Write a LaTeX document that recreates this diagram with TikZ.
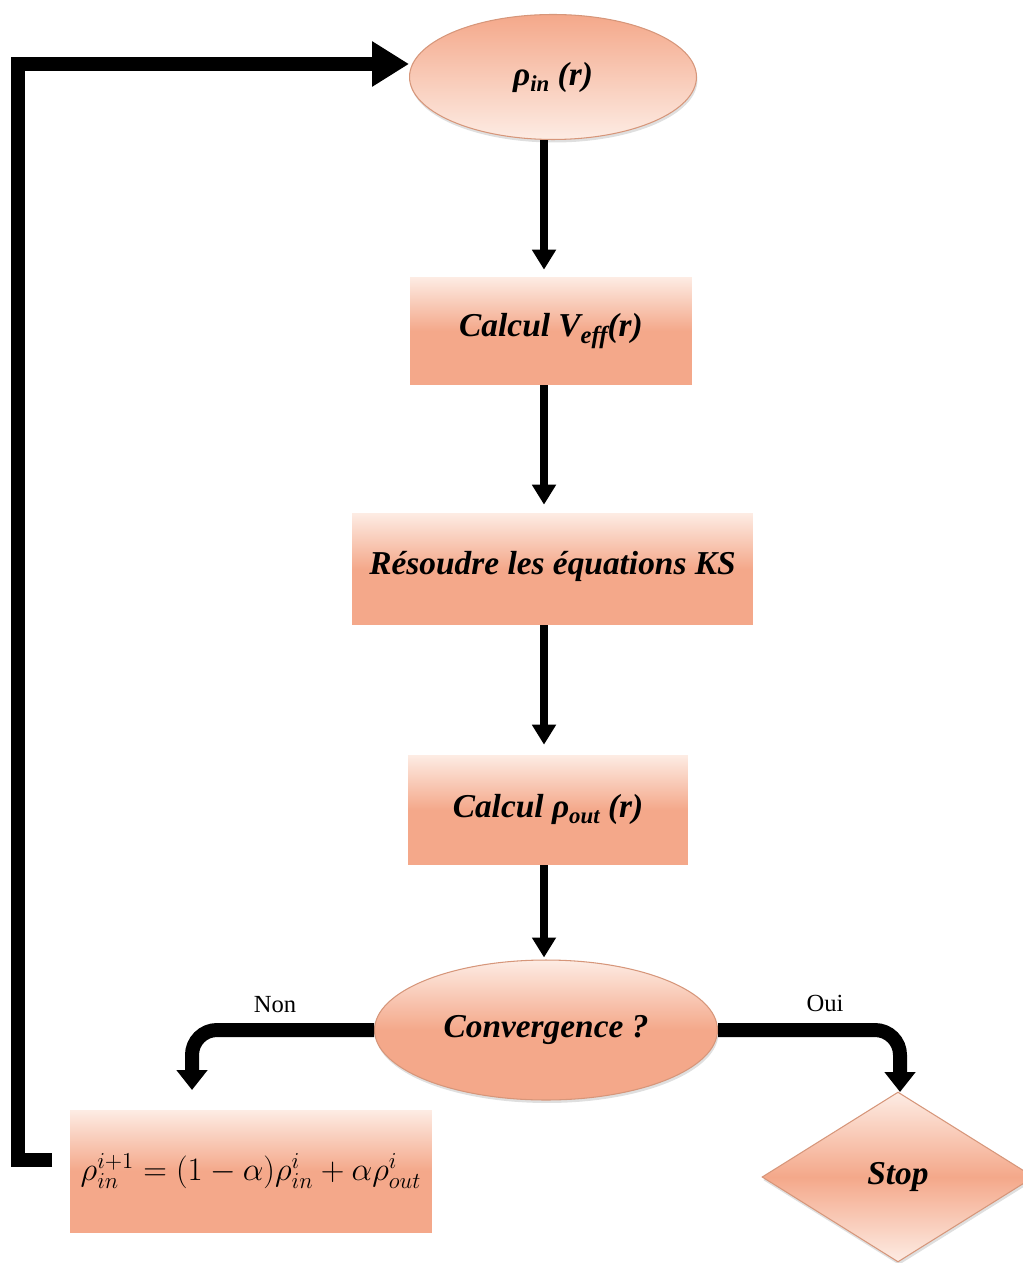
\documentclass[tikz,border=0pt]{standalone}
\usepackage{fontspec}
\setmainfont{Liberation Serif}
\usetikzlibrary{arrows.meta,shapes.geometric,shadows}
\definecolor{salmon}{RGB}{244,168,138}
\definecolor{lightsal}{RGB}{253,236,228}
\definecolor{rimcol}{RGB}{214,150,122}
\begin{document}
\begin{tikzpicture}[x=0.02cm,y=-0.02cm,
  lbl/.style={font=\bfseries\itshape\fontsize{19}{23}\selectfont},
  boxnode/.style={rectangle,inner sep=0pt,draw=none,
     top color=lightsal,bottom color=salmon,middle color=salmon,lbl},
  ellnode/.style={ellipse,inner sep=0pt,draw=rimcol,line width=0.6pt,
     top color=salmon,bottom color=lightsal,lbl,
     drop shadow={opacity=0.25,shadow xshift=0.02cm,shadow yshift=-0.06cm}},
  diamnode/.style={diamond,inner sep=0pt,draw=rimcol,line width=0.6pt,
     top color=lightsal,bottom color=lightsal,middle color=salmon,lbl,
     drop shadow={opacity=0.25,shadow xshift=0.02cm,shadow yshift=-0.06cm}},
  varrow/.style={line width=0.16cm,-{Triangle[length=0.4cm,width=0.46cm]}},
  barrow/.style={line width=0.28cm,rounded corners=0.5cm,-{Triangle[length=0.4cm,width=0.6cm]}},
  fbarrow/.style={line width=0.28cm,line join=miter,-{Triangle[length=0.74cm,width=0.86cm]}},
  small/.style={font=\fontsize{14}{16}\selectfont}
]
\useasboundingbox (0,0) rectangle (1023,1263);

\node[ellnode,minimum width=5.74cm,minimum height=2.5cm] (top) at (553,77)
  {\raisebox{0.05cm}{ρ\raisebox{-0.12cm}{\fontsize{13}{13}\selectfont in} (r)}};
\node[boxnode,minimum width=5.64cm,minimum height=2.16cm] (b1) at (551,331)
  {\raisebox{0.22cm}{Calcul V\raisebox{-0.14cm}{\fontsize{14}{14}\selectfont eff}(r)}};
\node[boxnode,minimum width=8.02cm,minimum height=2.24cm] (b2) at (552.5,569)
  {\raisebox{0.26cm}{Résoudre les équations KS}};
\node[boxnode,minimum width=5.6cm,minimum height=2.2cm] (b3) at (548,810)
  {\raisebox{0.18cm}{Calcul ρ\raisebox{-0.12cm}{\fontsize{13}{13}\selectfont out} (r)}};
\node[ellnode,minimum width=6.86cm,minimum height=2.8cm,top color=lightsal,bottom color=salmon,middle color=salmon] (conv) at (546,1030)
  {\raisebox{0.08cm}{Convergence ?}};
\node[boxnode,minimum width=7.24cm,minimum height=2.44cm,font=\fontsize{17}{20}\selectfont] (form) at (251,1171)
  {\raisebox{-0.06cm}{\scalebox{1.08}{$\rho_{in}^{i+1} = \bigl(1-\alpha\bigr)\rho_{in}^{i} + \alpha\rho_{out}^{i}$}}};
\node[diamnode,minimum width=5.44cm,minimum height=3.4cm] (stop) at (898,1177) {Stop};

\coordinate (ax) at (544,0);
\draw[varrow] (top.south -| ax) -- ([yshift=0.14cm]b1.north -| ax);
\draw[varrow] (b1.south -| ax) -- ([yshift=0.16cm]b2.north -| ax);
\draw[varrow] (b2.south -| ax) -- ([yshift=0.2cm]b3.north -| ax);
\draw[varrow] (b3.south -| ax) -- ([yshift=0.04cm]conv.north -| ax);

\coordinate (nonend) at (192,1090);
\draw[barrow] (conv.west) -| (nonend);
\coordinate (ouiend) at (900,1092);
\draw[barrow] (conv.east) -| (ouiend);

\node[small] (non) at (275,1005) {Non};
\node[small] (oui) at (825,1003) {Oui};

\coordinate (loopb) at (52,1160);
\coordinate (corner) at (18,64);
\draw[fbarrow] (loopb) -| (corner) -- (top.west |- corner);
\end{tikzpicture}
\end{document}
